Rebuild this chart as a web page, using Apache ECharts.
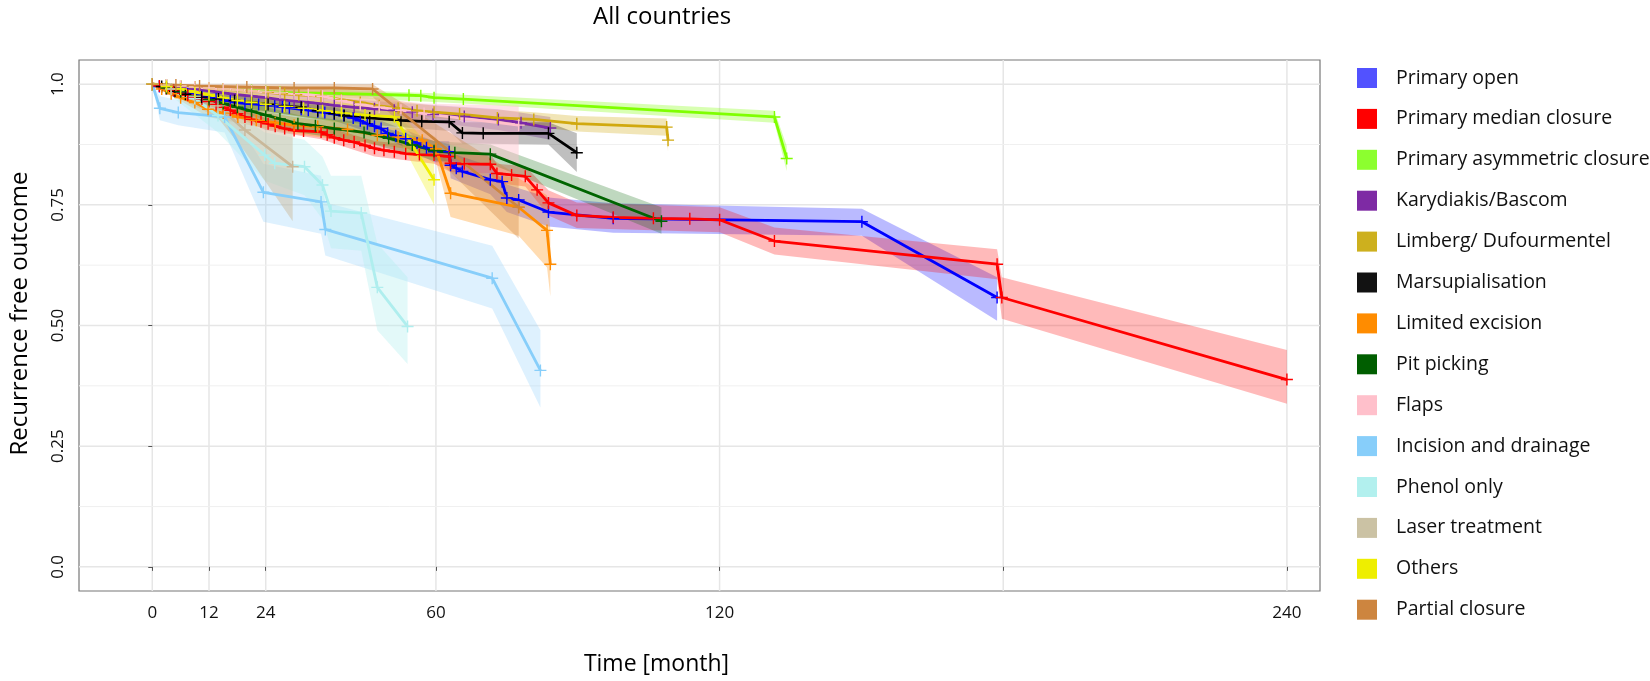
<!DOCTYPE html>
<html>
<head>
<meta charset="utf-8">
<script src="https://cdn.jsdelivr.net/npm/echarts@6/dist/echarts.min.js"></script>
<style>html,body{margin:0;padding:0;background:#fff;}#c{width:1650px;height:681px;}</style>
</head>
<body>
<div id="c"></div>
<script>
// ---- axis ticks ----
const xTickVals = [0, 12, 24, 60, 120, 180, 240];
const xLabelVals = [0, 12, 24, 60, 120, 240];
const yTickVals = [0, 0.25, 0.5, 0.75, 1];
const yTickLabels = ['0.0', '0.25', '0.50', '0.75', '1.0'];
const yMinorVals = [0.125, 0.375, 0.625, 0.875];

// ---- categories ----
const groupNames = ['Primary open', 'Primary median closure', 'Primary asymmetric closure', 'Karydiakis/Bascom',
  'Limberg/ Dufourmentel', 'Marsupialisation', 'Limited excision', 'Pit picking', 'Flaps',
  'Incision and drainage', 'Phenol only', 'Laser treatment', 'Others', 'Partial closure'];

// ---- curves [month, survival] and bands [month, lower, upper] ----
const openCurve = [[0,1],[1.5,0.995],[3,0.99],[4.5,0.987],[6,0.983],[7.5,0.98],[9,0.977],[10.5,0.974],[12,0.972],[13.5,0.969],[15,0.967],[16.5,0.965],[18,0.962],[19.6,0.96],[21,0.959],[22.5,0.958],[24,0.957],[25.9,0.955],[27.5,0.953],[29,0.951],[31.5,0.948],[33,0.946],[35,0.943],[36.5,0.941],[38.5,0.938],[40.5,0.935],[42.5,0.93],[44,0.924],[45.5,0.918],[47,0.913],[48.4,0.908],[49.8,0.898],[51.5,0.893],[53.6,0.887],[56,0.878],[58,0.868],[59.6,0.86],[62.8,0.86],[63.1,0.832],[64.3,0.826],[65.6,0.819],[71.5,0.802],[74,0.798],[75,0.764],[77.5,0.76],[83.8,0.735],[97.5,0.722],[150.1,0.715],[178.7,0.558]];
const openBand = [[0,1,1],[12,0.962,0.982],[24,0.944,0.968],[38.5,0.924,0.952],[48.4,0.892,0.924],[53.6,0.868,0.905],[59.6,0.838,0.882],[62.8,0.838,0.882],[63.1,0.805,0.858],[71.5,0.772,0.83],[75,0.735,0.792],[83.8,0.705,0.765],[97.5,0.692,0.753],[150.1,0.686,0.742],[178.7,0.51,0.6]];

const medianCurve = [[0,1],[1.5,0.996],[3,0.992],[4.5,0.987],[6,0.981],[7.5,0.977],[9,0.973],[10.5,0.969],[12,0.964],[13.5,0.958],[15,0.952],[16.5,0.946],[18,0.939],[19.6,0.932],[21,0.927],[23,0.922],[24.5,0.918],[26,0.913],[28,0.908],[30,0.904],[32,0.903],[35.7,0.901],[37,0.895],[38.5,0.889],[40.5,0.884],[42.7,0.88],[45,0.873],[47,0.867],[49,0.863],[51.2,0.86],[53.6,0.856],[56.5,0.854],[59.6,0.853],[62.8,0.85],[63.1,0.836],[66,0.835],[71.5,0.834],[72.9,0.815],[76,0.812],[78.9,0.809],[81.4,0.781],[83.8,0.754],[89.8,0.728],[97.5,0.724],[106,0.722],[113.7,0.721],[120,0.719],[131.6,0.675],[178.7,0.627],[179.7,0.558],[240,0.388]];
const medianBand = [[0,1,1],[12,0.955,0.973],[24,0.905,0.93],[35.7,0.886,0.915],[47,0.85,0.882],[59.6,0.835,0.87],[63.1,0.818,0.854],[71.5,0.815,0.856],[72.9,0.795,0.835],[78.9,0.788,0.83],[83.8,0.728,0.78],[89.8,0.702,0.755],[120,0.693,0.745],[131.6,0.647,0.703],[178.7,0.596,0.658],[179.7,0.514,0.6],[240,0.338,0.449]];

const asymCurve = [[0,1],[3,0.998],[6,0.996],[9,0.994],[12,0.992],[15,0.99],[18,0.988],[21,0.987],[24,0.985],[27,0.983],[30,0.982],[38.5,0.981],[54.3,0.977],[56.8,0.976],[59.6,0.972],[65.8,0.969],[131.6,0.932],[134.2,0.846]];
const asymBand = [[0,1,1],[15,0.984,0.996],[30,0.975,0.989],[38.5,0.973,0.989],[59.6,0.963,0.981],[65.8,0.96,0.978],[131.6,0.92,0.945],[134.2,0.82,0.872]];

const karyCurve = [[0,1],[3,0.997],[6,0.994],[9,0.99],[12,0.986],[15,0.982],[18,0.978],[21,0.975],[24,0.972],[27,0.968],[30,0.965],[33,0.962],[36,0.959],[38.5,0.956],[42.7,0.952],[47,0.949],[51.2,0.946],[55,0.942],[59.4,0.937],[66,0.933],[73.2,0.927],[78,0.92],[84.2,0.909]];
const karyBand = [[0,1,1],[15,0.972,0.992],[30,0.952,0.978],[51.2,0.93,0.962],[73.2,0.905,0.948],[84.2,0.885,0.932]];

const limbergCurve = [[0,1],[3,0.998],[6,0.996],[9,0.994],[12,0.992],[15,0.99],[18,0.988],[21,0.986],[24.5,0.983],[28,0.98],[31,0.978],[35.7,0.975],[40,0.968],[44,0.962],[48,0.955],[52,0.95],[56,0.945],[59.6,0.942],[65,0.938],[73,0.93],[80.7,0.927],[89.8,0.918],[108.8,0.911],[109.1,0.884]];
const limbergBand = [[0,1,1],[15,0.983,0.997],[30,0.97,0.99],[45,0.95,0.974],[59.6,0.93,0.955],[80.7,0.912,0.942],[89.8,0.902,0.934],[108.8,0.893,0.929],[109.1,0.86,0.908]];

const marsCurve = [[0,1],[2,0.995],[4.8,0.985],[7,0.979],[10.4,0.973],[14,0.969],[17.4,0.966],[21,0.962],[24.5,0.958],[28,0.955],[31.5,0.952],[35,0.945],[38.5,0.939],[40.6,0.935],[46,0.93],[52.6,0.925],[57,0.923],[62.8,0.922],[65.6,0.899],[70,0.898],[83.8,0.898],[89.8,0.858]];
const marsBand = [[0,1,1],[10.4,0.96,0.985],[24.5,0.943,0.972],[38.5,0.922,0.956],[62.8,0.903,0.94],[65.6,0.877,0.921],[83.8,0.875,0.921],[89.8,0.818,0.898]];

const limitedCurve = [[0,1],[2,0.99],[4,0.98],[6,0.972],[9,0.962],[11.8,0.948],[15,0.94],[18.1,0.932],[22,0.925],[26,0.92],[30,0.915],[35,0.912],[41.3,0.906],[47.6,0.894],[52,0.89],[57.1,0.884],[60,0.866],[63.1,0.774],[77.5,0.745],[83.5,0.697],[84.2,0.627]];
const limitedBand = [[0,1,1],[11.8,0.932,0.964],[30,0.897,0.932],[47.6,0.874,0.913],[57.1,0.862,0.905],[60,0.84,0.89],[63.1,0.725,0.825],[77.5,0.686,0.805],[83.5,0.62,0.77],[84.2,0.56,0.7]];

const pitCurve = [[0,1],[3,0.992],[6,0.984],[9,0.976],[12,0.968],[15,0.96],[18,0.952],[21,0.944],[24,0.936],[27,0.928],[30.8,0.918],[34.5,0.914],[38.5,0.908],[44.8,0.9],[50,0.888],[55,0.874],[59.6,0.862],[64,0.858],[71.5,0.855],[107.7,0.716]];
const pitBand = [[0,1,1],[15,0.945,0.975],[30.8,0.9,0.936],[44.8,0.88,0.92],[59.6,0.842,0.882],[71.5,0.835,0.875],[107.7,0.69,0.745]];

const flapsCurve = [[0,1],[3,0.998],[6,0.996],[9,0.994],[12,0.992],[15,0.99],[18,0.988],[21,0.986],[24,0.984],[27,0.982],[30,0.98],[33,0.978],[36,0.975],[40,0.966],[44,0.958],[48,0.952],[52.6,0.946],[57.5,0.939],[77.5,0.915]];
const flapsBand = [[0,1,1],[15,0.98,0.998],[36,0.96,0.99],[52.6,0.925,0.965],[57.5,0.89,0.96],[77.5,0.835,0.955]];

const incisionCurve = [[0,1],[1.6,0.95],[5.5,0.941],[15.3,0.932],[23.5,0.776],[35.7,0.756],[36.6,0.699],[71.9,0.598],[82.1,0.407]];
const incisionBand = [[0,1,1],[1.6,0.925,0.975],[5.5,0.915,0.967],[15.3,0.9,0.962],[23.5,0.715,0.835],[35.7,0.69,0.81],[36.6,0.645,0.755],[71.9,0.535,0.665],[82.1,0.33,0.49]];

const phenolCurve = [[0,1],[4,0.99],[9,0.97],[13.9,0.935],[23.8,0.853],[25.9,0.836],[32.2,0.829],[36,0.791],[37.8,0.737],[44.2,0.733],[47.6,0.579],[54,0.498]];
const phenolBand = [[0,1,1],[4,0.975,1],[13.9,0.9,0.965],[23.8,0.8,0.9],[32.2,0.77,0.885],[36,0.72,0.85],[37.8,0.66,0.81],[44.2,0.655,0.81],[47.6,0.49,0.67],[54,0.42,0.6]];

const laserCurve = [[0,1],[4,0.99],[9,0.975],[13.9,0.955],[19.6,0.905],[29.7,0.829]];
const laserBand = [[0,1,1],[13.9,0.93,0.978],[19.6,0.86,0.94],[29.7,0.716,0.905]];

const othersCurve = [[0,1],[3,0.995],[6,0.99],[9,0.984],[12,0.978],[15,0.972],[18,0.966],[21,0.962],[24,0.958],[28,0.954],[32,0.95],[36,0.945],[40,0.94],[45,0.936],[51.2,0.932],[59.6,0.802]];
const othersBand = [[0,1,1],[15,0.955,0.988],[30,0.935,0.97],[45,0.912,0.958],[51.2,0.905,0.955],[59.6,0.75,0.86]];

const partialCurve = [[0,1],[5,0.998],[10,0.996],[20,0.994],[30,0.992],[38.5,0.992],[46.6,0.99],[77.5,0.745]];
const partialBand = [[0,1,1],[10,0.988,1],[30,0.98,1],[46.6,0.974,1],[77.5,0.68,0.81]];

const curves = [openCurve, medianCurve, asymCurve, karyCurve, limbergCurve, marsCurve, limitedCurve, pitCurve, flapsCurve, incisionCurve, phenolCurve, laserCurve, othersCurve, partialCurve];
const bands = [openBand, medianBand, asymBand, karyBand, limbergBand, marsBand, limitedBand, pitBand, flapsBand, incisionBand, phenolBand, laserBand, othersBand, partialBand];

// ---- styles ----
const lineColors = ['#0000ff','#ff0000','#7fff00','#7b28a8','#d1a90f','#000000','#ff8c00','#006400','#ffc0cb','#87cefa','#afeeee','#c9b89a','#eeee00','#cd853f'];
const legendColors = ['#5252ff','#ff0000','#8cff2f','#7e2aa4','#cdb01e','#121212','#ff8c00','#005e00','#ffc0cb','#87cefa','#b2f0ee','#cbc2a4','#eeee00','#cd853f'];
const bandOpacity = [0.27,0.27,0.3,0.3,0.3,0.25,0.3,0.25,0.45,0.28,0.35,0.45,0.3,0.35];

const plusSymbol = 'path://M0,5.3H12V6.7H0Z M5.3,0H6.7V12H5.3Z';
const FONT = 'Open Sans';

const chart = echarts.init(document.getElementById('c'), null, {renderer: 'canvas'});

const series = [];
// grid lines
series.push({
  type: 'custom', name: 'gridX', silent: true, z: 0, clip: false,
  data: xTickVals.map(v => [v, 0]), encode: {x: 0, y: 1},
  renderItem: function (params, api) {
    const cs = params.coordSys;
    const x = api.coord([api.value(0), 0])[0];
    return {type: 'line', shape: {x1: x, y1: cs.y, x2: x, y2: cs.y + cs.height}, style: {stroke: '#e6e6e6', lineWidth: 1.5}};
  }
});
series.push({
  type: 'custom', name: 'gridY', silent: true, z: 0, clip: false,
  data: yTickVals.map(v => [0, v, 1.5]).concat(yMinorVals.map(v => [0, v, 1])), encode: {x: 0, y: 1},
  renderItem: function (params, api) {
    const cs = params.coordSys;
    const y = api.coord([0, api.value(1)])[1];
    const w = api.value(2);
    return {type: 'line', shape: {x1: cs.x, y1: y, x2: cs.x + cs.width, y2: y}, style: {stroke: w > 1.2 ? '#e6e6e6' : '#f0f0f0', lineWidth: w}};
  }
});
// bands
bands.forEach(function (band, i) {
  series.push({
    type: 'custom', name: groupNames[i] + ' band', silent: true, z: 1, clip: true,
    data: band, encode: {x: 0, y: [1, 2]},
    renderItem: function (params, api) {
      if (params.dataIndex !== 0) return null;
      const upper = band.map(b => api.coord([b[0], b[2]]));
      const lower = band.slice().reverse().map(b => api.coord([b[0], b[1]]));
      return {type: 'polygon', shape: {points: upper.concat(lower)}, style: {fill: lineColors[i], opacity: bandOpacity[i]}};
    }
  });
});
// curves
curves.forEach(function (c, i) {
  series.push({
    type: 'line', name: groupNames[i], data: c, z: 2, silent: true,
    symbol: plusSymbol, symbolSize: 12, showSymbol: true,
    lineStyle: {color: lineColors[i], width: 2.8},
    itemStyle: {color: lineColors[i]},
    emphasis: {disabled: true}
  });
});

chart.setOption({
  animation: false,
  backgroundColor: '#ffffff',
  textStyle: {fontFamily: FONT},
  title: {
    text: 'All countries', left: 588, top: 0,
    textStyle: {fontFamily: FONT, fontSize: 24, fontWeight: 'normal', color: '#000'}
  },
  legend: {
    orient: 'vertical', left: 1352, top: 63,
    itemWidth: 20, itemHeight: 20, itemGap: 20.9, icon: 'rect',
    selectedMode: false,
    textStyle: {fontFamily: FONT, fontSize: 19.5, color: '#111', padding: [0, 0, 0, 14]},
    data: groupNames.map((n, i) => ({name: n, itemStyle: {color: legendColors[i], borderWidth: 0}}))
  },
  grid: {
    left: 74, right: 330, top: 60, bottom: 85,
    show: true, borderColor: '#777777', borderWidth: 1.2, backgroundColor: 'transparent'
  },
  xAxis: {
    type: 'value', min: -15.5, max: 247,
    name: 'Time [month]', nameLocation: 'middle', nameGap: 62,
    nameTextStyle: {fontFamily: FONT, fontSize: 23, color: '#000', padding: [0, 86, 0, 0]},
    axisLine: {show: false},
    splitLine: {show: false},
    axisTick: {show: true, length: 4, lineStyle: {color: '#555'}, customValues: xTickVals},
    axisLabel: {customValues: xLabelVals, fontFamily: FONT, fontSize: 17, color: '#111', margin: 14}
  },
  yAxis: {
    type: 'value', min: -0.05, max: 1.05,
    name: 'Recurrence free outcome', nameLocation: 'middle', nameGap: 47,
    nameTextStyle: {fontFamily: FONT, fontSize: 24, color: '#000', padding: [0, 0, 0, 24]},
    axisLine: {show: false},
    splitLine: {show: false},
    axisTick: {show: true, length: 4, lineStyle: {color: '#555'}, customValues: yTickVals},
    axisLabel: {
      customValues: yTickVals, rotate: 90, fontFamily: FONT, fontSize: 17, color: '#111', margin: 12,
      formatter: function (v) { const k = yTickVals.findIndex(t => Math.abs(t - v) < 1e-9); return k >= 0 ? yTickLabels[k] : ''; }
    }
  },
  series: series
});
</script>
</body>
</html>
